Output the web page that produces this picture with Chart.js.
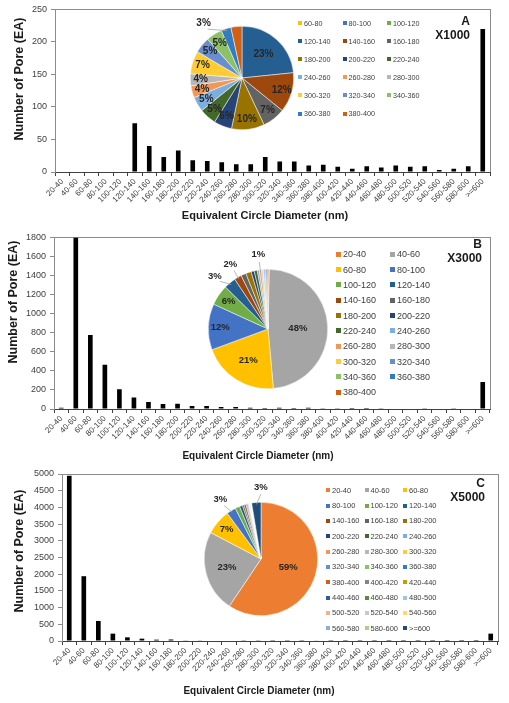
<!DOCTYPE html>
<html>
<head>
<meta charset="utf-8">
<script src="https://cdn.jsdelivr.net/npm/chart.js@4.4.1/dist/chart.umd.min.js"></script>
<style>
  body { margin: 0; background: #fff; }
  #page { position: relative; width: 509px; height: 703px; overflow: hidden; font-family: "Liberation Sans", Arial, sans-serif; }
  canvas { position: absolute; }
  .legend { position: absolute; display: grid; color: #404040; }
  .legend div { display: flex; align-items: center; white-space: nowrap; }
  .legend span { display: inline-block; margin-right: 2px; flex: none; }
  .tag { position: absolute; font-weight: bold; font-size: 12px; text-align: right; color: #1a1a1a; line-height: 14px; }
  .xtitle, .ytitle { position: absolute; font-weight: bold; color: #1a1a1a; white-space: nowrap; }
  .xtitle { transform: translate(-50%, -50%); }
  .ytitle { transform: translate(-50%, -50%) rotate(-90deg); }
</style>
</head>
<body>
<div id="page">
  <canvas id="barA" width="509" height="228" style="left:0;top:0"></canvas>
  <canvas id="barB" width="509" height="234" style="left:0;top:228px"></canvas>
  <canvas id="barC" width="509" height="241" style="left:0;top:462px"></canvas>
  <canvas id="pieA"></canvas>
  <canvas id="pieB"></canvas>
  <canvas id="pieC"></canvas>
  <div class="legend" id="legA"></div>
  <div class="legend" id="legB"></div>
  <div class="legend" id="legC"></div>
  <div class="tag" style="right:39px;top:14px">A<br>X1000</div>
  <div class="tag" style="right:27px;top:237px">B<br>X3000</div>
  <div class="tag" style="right:24px;top:476px">C<br>X5000</div>
  <div class="ytitle" style="left:19px;top:79px;font-size:12.5px">Number of Pore (EA)</div>
  <div class="ytitle" style="left:13px;top:302px;font-size:12.5px">Number of Pore (EA)</div>
  <div class="ytitle" style="left:19px;top:551px;font-size:12.5px">Number of Pore (EA)</div>
  <div class="xtitle" style="left:265px;top:215px;font-size:11px">Equivalent Circle Diameter (nm)</div>
  <div class="xtitle" style="left:258px;top:455px;font-size:10px">Equivalent Circle Diameter (nm)</div>
  <div class="xtitle" style="left:259px;top:690px;font-size:10px">Equivalent Circle Diameter (nm)</div>
</div>
<script>
// size classes (nm)
const categories = ['20-40', '40-60', '60-80', '80-100', '100-120', '120-140', '140-160', '160-180',
  '180-200', '200-220', '220-240', '240-260', '260-280', '280-300', '300-320', '320-340', '340-360',
  '360-380', '380-400', '400-420', '420-440', '440-460', '460-480', '480-500', '500-520', '520-540',
  '540-560', '560-580', '580-600', '>=600'];

// pore counts, X1000
const poresA = [0, 0, 0, 0, 0, 75, 40, 23, 33, 18, 17, 15, 12, 12, 23, 16, 16, 10, 11, 8, 5, 9, 7, 10, 8, 9, 3, 5, 9, 220];
// pore counts, X3000
const poresB = [14, 1800, 777, 465, 208, 121, 73, 52, 55, 31, 31, 21, 21, 14, 10, 12, 10, 12, 8, 8, 10, 10, 8, 5, 5, 7, 4, 2, 0, 284];
// pore counts, X5000
const poresC = [4950, 1940, 600, 220, 110, 70, 40, 45, 20, 20, 15, 15, 8, 8, 5, 5, 5, 12, 4, 3, 3, 3, 2, 2, 2, 2, 1, 1, 1, 220];

// y axis
const yMaxA = 250, yStepA = 50;
const yMaxB = 1800, yStepB = 200;
const yMaxC = 5000, yStepC = 500;

// classes shown in each pie
const pieRangeA = ['60-80', '380-400'];
const pieRangeB = ['20-40', '380-400'];
const pieRangeC = ['20-40', '>=600'];

// excel palette, one per class
const sliceColors = ['#ED7D31', '#A5A5A5', '#FFC000', '#4472C4', '#70AD47', '#255E91', '#9E480E', '#636363',
  '#997300', '#264478', '#43682B', '#7CAFDD', '#F1975A', '#B7B7B7', '#FFCD33', '#698ED0', '#8CC168',
  '#327DC2', '#D26012', '#848484', '#CC9A00', '#335AA1', '#5A8A39', '#9DC3E6', '#F4B183', '#C9C9C9',
  '#FFD966', '#8FAADC', '#A9D18E', '#1F4E79'];

Chart.defaults.font.family = '"Liberation Sans", Arial, sans-serif';

const plotFrame = {
  id: 'plotFrame',
  beforeDraw(chart) {
    const a = chart.chartArea, ctx = chart.ctx;
    ctx.save();
    ctx.strokeStyle = '#8c8c8c';
    ctx.lineWidth = 1;
    ctx.strokeRect(Math.round(a.left) + 0.5, Math.round(a.top) + 0.5, Math.round(a.width), Math.round(a.height));
    ctx.restore();
  }
};

const pieLabels = {
  id: 'pieLabels',
  afterDatasetsDraw(chart, args, opts) {
    const ctx = chart.ctx;
    const ds = chart.data.datasets[0];
    const total = ds.data.reduce((a, b) => a + b, 0);
    chart.getDatasetMeta(0).data.forEach((arc, i) => {
      const pct = Math.round(ds.data[i] / total * 100);
      const mid = (arc.startAngle + arc.endAngle) / 2;
      const r = arc.outerRadius;
      const cos = Math.cos(mid), sin = Math.sin(mid);
      ctx.save();
      ctx.font = 'bold ' + opts.size + 'px "Liberation Sans", Arial, sans-serif';
      ctx.fillStyle = '#262626';
      ctx.textAlign = 'center';
      ctx.textBaseline = 'middle';
      const o = opts.outside[chart.data.labels[i]];
      if (o !== undefined) {
        // o = label angle shift (rad, negative = anticlockwise)
        const la = mid + o;
        ctx.strokeStyle = '#a6a6a6';
        ctx.lineWidth = 0.8;
        ctx.beginPath();
        ctx.moveTo(arc.x + cos * (r - 2), arc.y + sin * (r - 2));
        ctx.lineTo(arc.x + Math.cos(la) * (r + 8), arc.y + Math.sin(la) * (r + 8));
        ctx.stroke();
        ctx.fillText(pct + '%', arc.x + Math.cos(la) * (r + 15), arc.y + Math.sin(la) * (r + 15));
      } else if (pct >= 4) {
        const f = pct >= 40 ? 0.5 : pct >= 20 ? 0.62 : 0.8;
        ctx.fillText(pct + '%', arc.x + cos * r * f, arc.y + sin * r * f);
      }
      ctx.restore();
    });
  }
};

function makeBars(id, values, yMax, yStep, box) {
  new Chart(document.getElementById(id), {
    type: 'bar',
    data: {
      labels: categories,
      datasets: [{ data: values, backgroundColor: '#000', barPercentage: 0.32, categoryPercentage: 1 }]
    },
    options: {
      responsive: false,
      animation: false,
      events: [],
      layout: { padding: { top: box.top, right: box.right, left: 0, bottom: 0 } },
      plugins: { legend: { display: false }, tooltip: { enabled: false } },
      scales: {
        x: {
          grid: { drawOnChartArea: false, tickLength: 4, color: '#404040' },
          border: { color: '#404040' },
          ticks: { autoSkip: false, minRotation: 45, maxRotation: 45, padding: 1, color: '#404040', font: { size: 8 } },
          afterFit: s => { s.height = box.xH; }
        },
        y: {
          min: 0,
          max: yMax,
          ticks: { stepSize: yStep, color: '#404040', font: { size: 9 }, padding: 4, callback: v => String(v) },
          grid: { drawOnChartArea: false, tickLength: 4, color: '#8c8c8c' },
          border: { color: '#8c8c8c' },
          afterFit: s => { s.width = box.yW; }
        }
      }
    },
    plugins: [plotFrame]
  });
}

function makePie(id, values, range, outside, cx, cy, r, size) {
  const from = categories.indexOf(range[0]), to = categories.indexOf(range[1]) + 1;
  const pad = 28;
  const c = document.getElementById(id);
  c.width = c.height = 2 * (r + pad);
  c.style.left = (cx - r - pad) + 'px';
  c.style.top = (cy - r - pad) + 'px';
  new Chart(c, {
    type: 'pie',
    data: {
      labels: categories.slice(from, to),
      datasets: [{
        data: values.slice(from, to),
        backgroundColor: sliceColors.slice(from, to),
        borderColor: '#fff',
        borderWidth: 0.5
      }]
    },
    options: {
      responsive: false,
      animation: false,
      events: [],
      layout: { padding: pad },
      plugins: { legend: { display: false }, tooltip: { enabled: false }, pieLabels: { outside: outside, size: size } }
    },
    plugins: [pieLabels]
  });
}

function makeLegend(id, range, cols, left, top, colW, rowH, font, box) {
  const from = categories.indexOf(range[0]), to = categories.indexOf(range[1]) + 1;
  const el = document.getElementById(id);
  el.style.left = left + 'px';
  el.style.top = top + 'px';
  el.style.gridTemplateColumns = 'repeat(' + cols + ', ' + colW + 'px)';
  el.style.gridAutoRows = rowH + 'px';
  el.style.fontSize = font + 'px';
  categories.slice(from, to).forEach((name, k) => {
    const item = document.createElement('div');
    const sw = document.createElement('span');
    sw.style.width = sw.style.height = box + 'px';
    sw.style.background = sliceColors[from + k];
    item.appendChild(sw);
    item.appendChild(document.createTextNode(name));
    el.appendChild(item);
  });
}

makeBars('barA', poresA, yMaxA, yStepA, { top: 8, right: 19, yW: 55, xH: 56 });
makeBars('barB', poresB, yMaxB, yStepB, { top: 8, right: 19, yW: 54, xH: 53 });
makeBars('barC', poresC, yMaxC, yStepC, { top: 12, right: 11, yW: 62, xH: 62 });

makePie('pieA', poresA, pieRangeA, { '360-380': -0.3 }, 241.5, 77.5, 52, 10);
makePie('pieB', poresB, pieRangeB, { '120-140': -0.1, '140-160': 0, '260-280': 0 }, 267.5, 328.5, 60, 9.5);
makePie('pieC', poresC, pieRangeC, { '80-100': -0.05, '>=600': 0.08 }, 261, 559, 57, 9.5);

makeLegend('legA', pieRangeA, 3, 298, 14, 44.5, 18.1, 7.2, 4);
makeLegend('legB', pieRangeB, 2, 336, 246.5, 54, 15.35, 9, 5);
makeLegend('legC', pieRangeC, 3, 326, 482.5, 38.5, 15.35, 7.5, 4);
</script>
</body>
</html>
